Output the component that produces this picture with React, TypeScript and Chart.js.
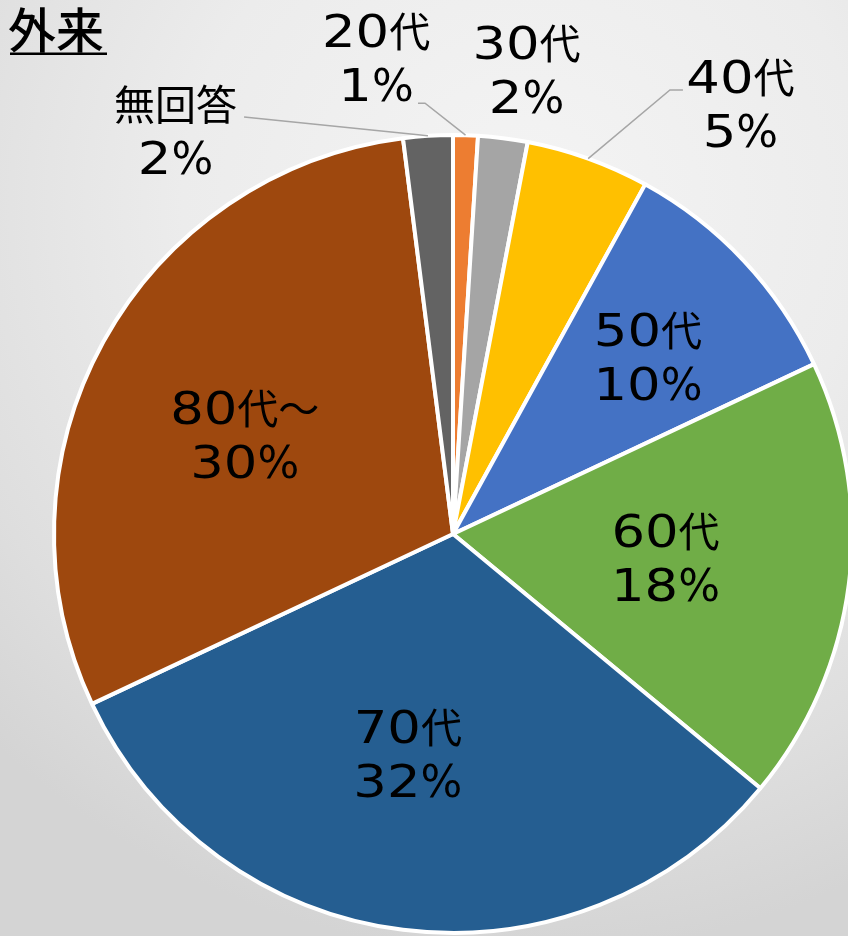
import React, { useEffect, useRef } from 'react';
import { Chart, registerables } from 'chart.js';

Chart.register(...registerables);

// ---- data ----
const categories = ['20代', '30代', '40代', '50代', '60代', '70代', '80代～', '無回答'];
const shares = [1, 2, 5, 10, 18, 32, 30, 2];
const percentLabels = ['1%', '2%', '5%', '10%', '18%', '32%', '30%', '2%'];
const chartTitle = '外来';

// ---- styles ----
const sliceColors = ['#ED7D31', '#A5A5A5', '#FFC000', '#4472C4', '#70AD47', '#255E91', '#9E480E', '#636363'];

type Placement = {
  kind: 'in' | 'out';
  r?: number;
  dx: number;
  dy: number;
  leader?: number[][];
};

// label placement relative to each slice's mid-angle point
const labelPlacement: Placement[] = [
  { kind: 'out', dx: -89.5, dy: -77, leader: [[-40.5, -32], [-47.5, -32]] },
  { kind: 'out', dx: 23.5, dy: -68 },
  { kind: 'out', dx: 152.3, dy: -54.1, leader: [[81.8, -68.6], [94.8, -68.6]] },
  { kind: 'in', r: 0.66, dx: 3, dy: 3 },
  { kind: 'in', r: 0.535, dx: 0.7, dy: -3 },
  { kind: 'in', r: 0.563, dx: -17, dy: -3 },
  { kind: 'in', r: 0.577, dx: -6.5, dy: 12 },
  { kind: 'out', dx: -252.4, dy: -4.8, leader: [[-183.9, -18.8]] },
];

const LATIN_FONT = '44px "DejaVu Sans"';
const CJK_FONT = '41px "Noto Sans CJK JP"';
const DIGIT_SCALE = 1.2;

function drawRich(ctx: CanvasRenderingContext2D, text: string, cx: number, baseline: number) {
  const parts: { ch: string; font: string; s: number; w: number }[] = [];
  let total = 0;
  for (const ch of Array.from(text)) {
    const isDigit = /[0-9]/.test(ch);
    const isLatin = /[0-9%]/.test(ch);
    const font = isLatin ? LATIN_FONT : CJK_FONT;
    const s = isDigit ? DIGIT_SCALE : 1;
    ctx.font = font;
    const w = ctx.measureText(ch).width * s;
    parts.push({ ch, font, s, w });
    total += w;
  }
  let x = cx - total / 2;
  for (const p of parts) {
    ctx.save();
    ctx.font = p.font;
    ctx.translate(x, baseline);
    ctx.scale(p.s, 1);
    ctx.fillText(p.ch, 0, 0);
    ctx.restore();
    x += p.w;
  }
}

const labelPlugin = {
  id: 'sliceLabels',
  afterDraw(chart: any) {
    const ctx: CanvasRenderingContext2D = chart.ctx;
    const meta = chart.getDatasetMeta(0);
    ctx.save();
    ctx.textAlign = 'left';
    ctx.textBaseline = 'alphabetic';
    ctx.fillStyle = '#000000';
    meta.data.forEach((arc: any, i: number) => {
      const p = arc.getProps(['x', 'y', 'startAngle', 'endAngle', 'outerRadius'], true);
      const a = (p.startAngle + p.endAngle) / 2;
      const pl = labelPlacement[i];
      let cx: number;
      let cy: number;
      if (pl.kind === 'in') {
        const rr = (pl.r || 0.5) * p.outerRadius;
        cx = p.x + Math.cos(a) * rr + pl.dx;
        cy = p.y + Math.sin(a) * rr + pl.dy;
      } else {
        const px = p.x + Math.cos(a) * p.outerRadius;
        const py = p.y + Math.sin(a) * p.outerRadius;
        cx = px + pl.dx;
        cy = py + pl.dy;
        if (pl.leader && pl.leader.length) {
          ctx.save();
          ctx.strokeStyle = '#A6A6A6';
          ctx.lineWidth = 1.5;
          ctx.beginPath();
          ctx.moveTo(px, py);
          pl.leader.forEach((o) => ctx.lineTo(px + o[0], py + o[1]));
          ctx.stroke();
          ctx.restore();
        }
      }
      drawRich(ctx, categories[i], cx, cy - 11);
      drawRich(ctx, percentLabels[i], cx, cy + 43);
    });

    // title with underline
    ctx.font = '500 48px "Noto Sans CJK JP"';
    ctx.fillStyle = '#000000';
    ctx.textAlign = 'left';
    ctx.fillText(chartTitle, 8, 48);
    ctx.fillRect(10, 52.5, 97, 2.5);
    ctx.restore();
  },
};

export default function App() {
  const ref = useRef<HTMLCanvasElement | null>(null);
  useEffect(() => {
    if (!ref.current) return;
    const chart = new Chart(ref.current, {
      type: 'pie',
      data: {
        labels: categories,
        datasets: [
          {
            data: shares,
            backgroundColor: sliceColors,
            borderColor: '#FFFFFF',
            borderWidth: 4,
            radius: 399,
          } as any,
        ],
      },
      options: {
        responsive: false,
        animation: false,
        radius: 399,
        layout: { padding: { left: 58, right: 0, top: 132, bottom: 0 } },
        plugins: {
          legend: { display: false },
          tooltip: { enabled: false },
          title: { display: false },
        },
      } as any,
      plugins: [labelPlugin],
    });
    return () => chart.destroy();
  }, []);

  return (
    <div
      style={{
        position: 'fixed',
        left: 0,
        top: 0,
        width: 848,
        height: 936,
        overflow: 'hidden',
        background:
          'radial-gradient(ellipse 90% 80% at 62% 22%, #f4f4f4 0%, #ececec 45%, #dedede 80%, #d4d4d4 100%)',
      }}
    >
      <canvas ref={ref} width={848} height={936} style={{ display: 'block', width: 848, height: 936 }} />
    </div>
  );
}
